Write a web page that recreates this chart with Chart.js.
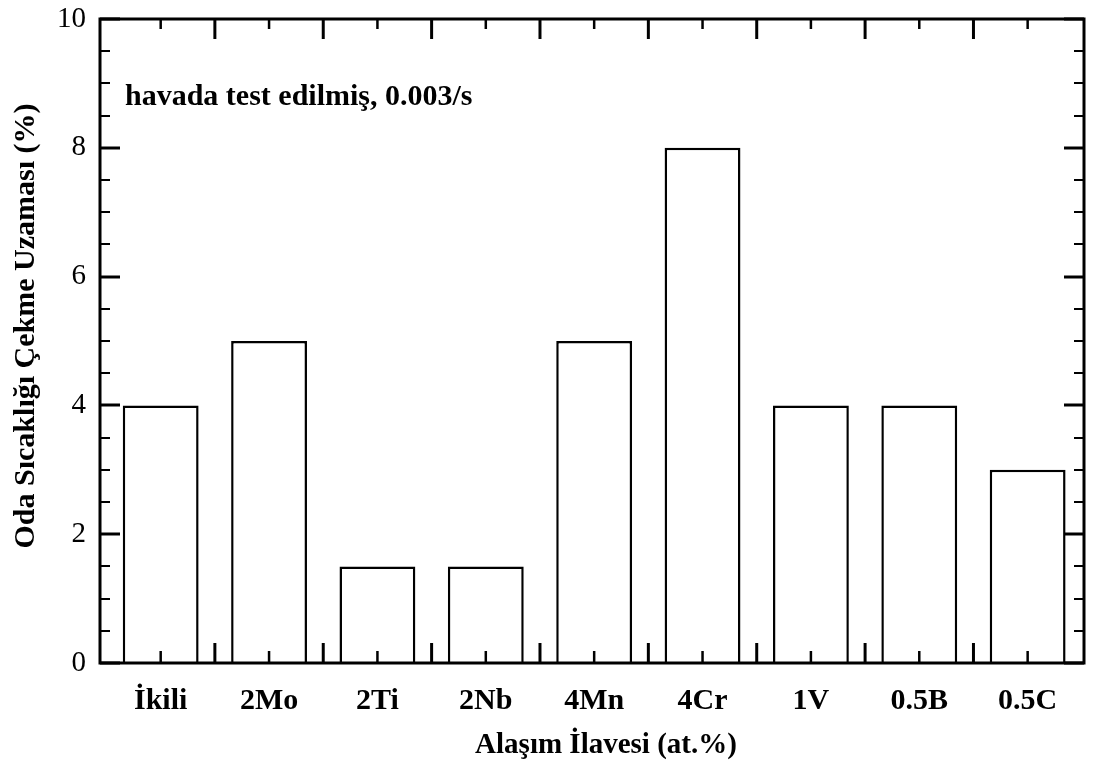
<!DOCTYPE html>
<html>
<head>
<meta charset="utf-8">
<script src="https://cdn.jsdelivr.net/npm/chart.js@4.4.1/dist/chart.umd.min.js"></script>
<style>
  html, body { margin: 0; padding: 0; background: #fff; }
</style>
</head>
<body>
<canvas id="elongation-bar-chart" width="1094" height="764"></canvas>
<script>
var alloys = ["İkili", "2Mo", "2Ti", "2Nb", "4Mn", "4Cr", "1V", "0.5B", "0.5C"];
var elongation = [4, 5, 1.5, 1.5, 5, 8, 4, 4, 3];
var yTicks = [0, 2, 4, 6, 8, 10];
var yMinorStep = 0.5;

var serif = "'Liberation Serif', 'Times New Roman', serif";

// bars sit on a numeric index axis so the frame can be a bit wider than the groups
var points = alloys.map(function (name, i) { return { x: i, y: elongation[i] }; });

function line(ctx, x1, y1, x2, y2) {
  ctx.beginPath();
  ctx.moveTo(x1, y1);
  ctx.lineTo(x2, y2);
  ctx.stroke();
}

// box frame with inward ticks on all four sides, plus titles and note
var frameTicks = {
  id: 'frameTicks',
  afterDatasetsDraw: function (chart) {
    var ctx = chart.ctx, a = chart.chartArea;
    var xs = chart.scales.x, ys = chart.scales.y;
    ctx.save();
    ctx.strokeStyle = '#000';

    for (var v = yTicks[0]; v <= yTicks[yTicks.length - 1] + 1e-9; v += yMinorStep) {
      var py = Math.round(ys.getPixelForValue(v));
      var major = yTicks.indexOf(v) >= 0;
      var len = major ? 20 : 10;
      ctx.lineWidth = major ? 3 : 2;
      line(ctx, a.left, py, a.left + len, py);
      line(ctx, a.right, py, a.right - len, py);
    }

    for (var i = 0; i < alloys.length; i++) {
      var px = xs.getPixelForValue(i);
      ctx.lineWidth = 2.5;
      line(ctx, px, a.top, px, a.top + 10);
      line(ctx, px, a.bottom, px, a.bottom - 12);
      if (i < alloys.length - 1) {
        var bx = xs.getPixelForValue(i + 0.5);
        ctx.lineWidth = 3;
        line(ctx, bx, a.top, bx, a.top + 20);
        line(ctx, bx, a.bottom, bx, a.bottom - 20);
      }
    }

    ctx.lineWidth = 3;
    ctx.strokeRect(a.left, a.top, a.right - a.left, a.bottom - a.top);

    ctx.fillStyle = '#000';
    ctx.font = "bold 30px " + serif;
    ctx.textAlign = 'left';
    ctx.textBaseline = 'alphabetic';
    ctx.fillText("havada test edilmiş, 0.003/s", a.left + 25, a.top + 86);

    ctx.font = "bold 29px " + serif;
    ctx.textAlign = 'center';
    ctx.textBaseline = 'middle';
    ctx.fillText("Alaşım İlavesi (at.%)", (a.left + a.right) / 2 + 14, a.bottom + 83);

    ctx.font = "bold 30px " + serif;
    ctx.translate(26, (a.top + a.bottom) / 2 - 15);
    ctx.rotate(-Math.PI / 2);
    ctx.fillText("Oda Sıcaklığı Çekme Uzaması (%)", 0, 0);
    ctx.restore();
  }
};

new Chart(document.getElementById("elongation-bar-chart"), {
  type: 'bar',
  data: {
    datasets: [
      {
        label: "Uzama",
        data: points,
        backgroundColor: "#ffffff",
        borderColor: "#000000",
        borderWidth: 2.5,
        barPercentage: 0.7,
        categoryPercentage: 1.0
      }
    ]
  },
  options: {
    responsive: false,
    devicePixelRatio: 1,
    animation: false,
    layout: { padding: { top: 19, right: 10, left: 0, bottom: 0 } },
    plugins: {
      legend: { display: false },
      tooltip: { enabled: false }
    },
    scales: {
      x: {
        type: 'linear',
        offset: false,
        min: -0.56,
        max: 8.52,
        afterBuildTicks: function (scale) {
          scale.ticks = alloys.map(function (name, i) { return { value: i }; });
        },
        grid: { display: false, drawTicks: false, offset: false },
        border: { display: false },
        ticks: {
          color: '#000',
          font: { family: serif, size: 30, weight: 'bold' },
          padding: 20,
          maxRotation: 0,
          autoSkip: false,
          callback: function (value) { return alloys[value]; }
        },
        afterFit: function (scale) {
          scale.height = 101;
          scale.paddingLeft = 0;
          scale.paddingRight = 0;
        }
      },
      y: {
        min: 0,
        max: 10,
        afterBuildTicks: function (scale) {
          scale.ticks = yTicks.map(function (v) { return { value: v }; });
        },
        grid: { display: false, drawTicks: false },
        border: { display: false },
        ticks: {
          color: '#000',
          font: { family: serif, size: 29 },
          padding: 14
        },
        afterFit: function (scale) {
          scale.width = 100;
          scale.paddingTop = 0;
          scale.paddingBottom = 0;
        }
      }
    }
  },
  plugins: [frameTicks]
});
</script>
</body>
</html>
